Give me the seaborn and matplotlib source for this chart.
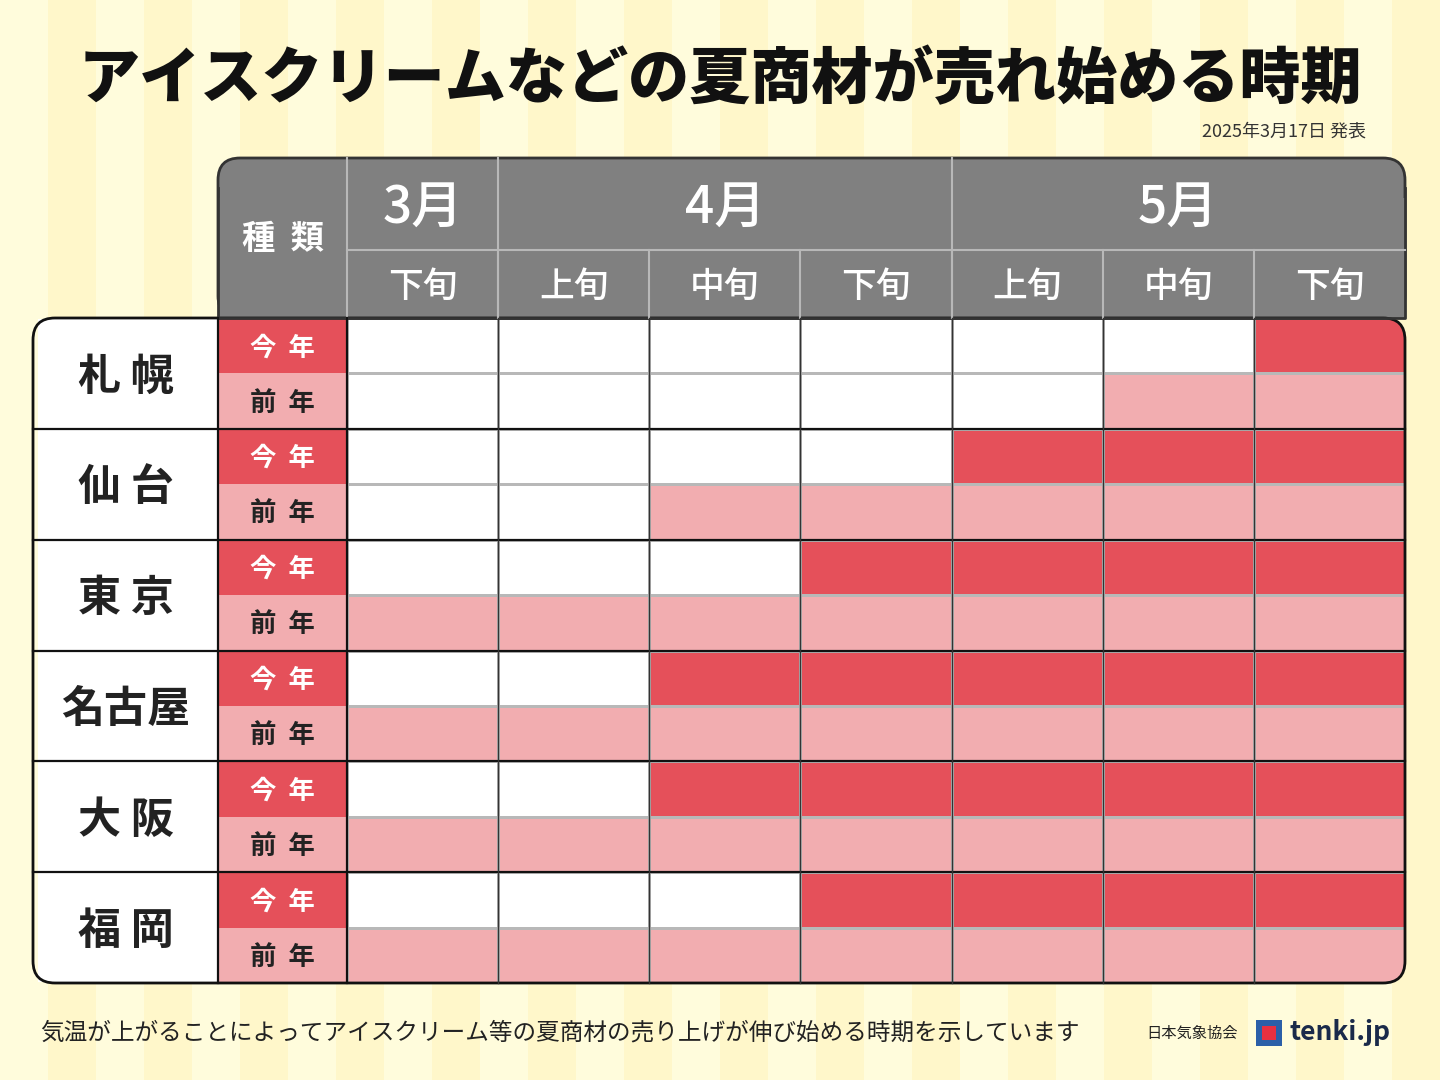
import numpy as np
import matplotlib
matplotlib.use("Agg")
import matplotlib.pyplot as plt
from matplotlib.colors import ListedColormap
from matplotlib.patches import FancyBboxPatch, Rectangle
import seaborn as sns

FONT = "Noto Sans CJK JP"
plt.rcParams["font.family"] = FONT

cities = ["札 幌", "仙 台", "東 京", "名古屋", "大 阪", "福 岡"]
months = ["3月", "4月", "5月"]
month_spans = [1, 3, 3]
periods = ["下旬", "上旬", "中旬", "下旬", "上旬", "中旬", "下旬"]
kinds = ["今  年", "前  年"]
# index of first period when sales start (0 = 3月下旬)
start_this_year = [6, 4, 3, 2, 2, 3]
start_last_year = [5, 2, 0, 0, 0, 0]

RED = "#E5505A"; PINK = "#F2ADB0"; GRAY = "#808080"

mat = []
for a, b in zip(start_this_year, start_last_year):
    mat.append([1 if j >= a else 0 for j in range(len(periods))])
    mat.append([2 if j >= b else 0 for j in range(len(periods))])
mat = np.array(mat)

W, H = 1440, 1080
fig = plt.figure(figsize=(14.4, 10.8), dpi=100)
bg = fig.add_axes([0, 0, 1, 1]); bg.set_xlim(0, W); bg.set_ylim(H, 0); bg.axis("off")
for i in range(0, W, 96):
    bg.add_patch(Rectangle((i, 0), 48, H, color="#FFFCDC", lw=0))
    bg.add_patch(Rectangle((i + 48, 0), 48, H, color="#FFF7CA", lw=0))

X0, XK, XH, X1 = 33, 218, 347, 1405
YT, YM, YP, YB = 158, 250, 318, 983
rh = (YB - YP) / 12
cw = (X1 - XH) / 7

def px(x0, y0, x1, y1):
    return [x0 / W, 1 - y1 / H, (x1 - x0) / W, (y1 - y0) / H]

hm = fig.add_axes(px(XH, YP, X1, YB))
sns.heatmap(mat, ax=hm, cmap=ListedColormap(["white", RED, PINK]), vmin=-0.5, vmax=2.5,
            cbar=False, linewidths=0.8, linecolor="#b8b8b8", xticklabels=False, yticklabels=False)
hm.axis("off")

ov = fig.add_axes([0, 0, 1, 1]); ov.set_xlim(0, W); ov.set_ylim(H, 0); ov.axis("off")
ov.patch.set_alpha(0)

clip = FancyBboxPatch((X0, YP), X1 - X0, YB - YP, boxstyle="round,pad=0,rounding_size=22",
                      fc="none", ec="none", transform=ov.transData)
for coll in hm.collections:
    coll.set_clip_path(clip)

# header
ov.add_patch(FancyBboxPatch((XK, YT), X1 - XK, YP - YT, boxstyle="round,pad=0,rounding_size=22",
                            fc=GRAY, ec="#333333", lw=2))
ov.add_patch(Rectangle((XK, YT + 40), X1 - XK, YP - YT - 40, fc=GRAY, lw=0))
ov.plot([XK, XK, X1, X1], [YT + 30, YP, YP, YT + 30], color="#333333", lw=2)
ov.text((XK + XH) / 2, (YT + YP) / 2 + 2, "種  類", color="white", fontsize=24, weight="bold", ha="center", va="center")
ov.plot([XH, XH], [YT, YP], color="#b8b8b8", lw=1.5)
ov.plot([XH, X1], [YM, YM], color="#b8b8b8", lw=1.5)
c = 0
for m, s in zip(months, month_spans):
    xa, xb = XH + c * cw, XH + (c + s) * cw
    ov.text((xa + xb) / 2, (YT + YM) / 2 + 4, m, color="white", fontsize=37, weight="medium", ha="center", va="center")
    if c > 0:
        ov.plot([xa, xa], [YT, YP], color="#b8b8b8", lw=1.5)
    c += s
for j, p in enumerate(periods):
    if j > 0:
        ov.plot([XH + j * cw] * 2, [YM, YP], color="#b8b8b8", lw=1.5)
    ov.text(XH + (j + 0.5) * cw, (YM + YP) / 2 + 3, p, color="white", fontsize=25, weight="medium", ha="center", va="center")

# body left columns
for i, city in enumerate(cities):
    ya = YP + 2 * i * rh
    ov.add_patch(Rectangle((X0 + 5, ya + 1), XK - X0 - 5, 2 * rh - 2, fc="white", lw=0))
    ov.text((X0 + XK) / 2, ya + rh + 3, city, fontsize=31, weight="bold", ha="center", va="center", color="#222222")
    for k, kd in enumerate(kinds):
        yk = ya + k * rh
        ov.add_patch(Rectangle((XK, yk), XH - XK, rh, fc=RED if k == 0 else PINK, lw=0))
        ov.text((XK + XH) / 2, yk + rh / 2 + 2, kd, fontsize=19, weight="bold", ha="center", va="center",
                color="white" if k == 0 else "#222222")
    if i > 0:
        ov.plot([X0, X1], [ya, ya], color="#111111", lw=1.6)
ov.plot([XK, XK], [YP, YB], color="#111111", lw=1.6)
ov.plot([XH, XH], [YP, YB], color="#111111", lw=1.6)
for j in range(1, 7):
    ov.plot([XH + j * cw] * 2, [YP, YB], color="#333333", lw=1.0)
ov.add_patch(FancyBboxPatch((X0, YP), X1 - X0, YB - YP, boxstyle="round,pad=0,rounding_size=22",
                            fc="none", ec="#111111", lw=2))

# titles
ov.text(720, 80, "アイスクリームなどの夏商材が売れ始める時期", fontsize=44, weight="black",
        ha="center", va="center", color="#111111")
ov.text(1366, 131, "2025年3月17日 発表", fontsize=13, ha="right", va="center", color="#333333")
ov.text(40, 1033, "気温が上がることによってアイスクリーム等の夏商材の売り上げが伸び始める時期を示しています",
        fontsize=17, ha="left", va="center", color="#222222")
ov.text(1238, 1033, "日本気象協会", fontsize=11, ha="right", va="center", color="#222222")
ov.text(1290, 1033, "tenki.jp", fontsize=19, weight="bold", ha="left", va="center", color="#1a2a4a")
ov.add_patch(Rectangle((1256, 1020), 26, 26, fc="#2b5fa8", lw=0))
ov.add_patch(Rectangle((1262, 1026), 14, 14, fc="#e83040", lw=0))

fig.savefig("out.png", dpi=100)
